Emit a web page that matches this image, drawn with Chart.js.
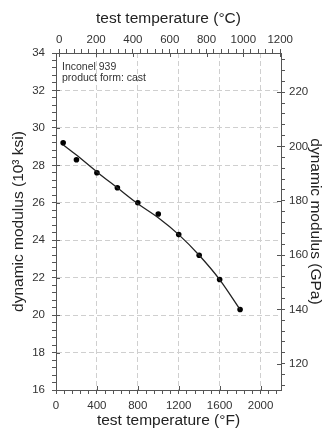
<!DOCTYPE html>
<html><head><meta charset="utf-8">
<script src="https://cdn.jsdelivr.net/npm/chart.js@4/dist/chart.umd.min.js"></script>
<style>html,body{margin:0;padding:0;background:#fff}canvas{display:block}</style>
</head><body>
<canvas id="c" width="329" height="434"></canvas>
<script>
// ---- data ----
const tempF = [70, 200, 400, 600, 800, 1000, 1200, 1400, 1600, 1800];
const modulusKsi = [29.2, 28.3, 27.6, 26.8, 26.0, 25.4, 24.3, 23.2, 21.9, 20.3];
const fitTempF = [70, 200, 400, 600, 800, 1000, 1200, 1400, 1600, 1800];
const fitKsi = [29.1, 28.55, 27.65, 26.8, 25.95, 25.2, 24.3, 23.2, 21.9, 20.3];

const xTicksF = [0, 400, 800, 1200, 1600, 2000];
const xTicksC = [0, 200, 400, 600, 800, 1000, 1200];
const yTicksKsi = [16, 18, 20, 22, 24, 26, 28, 30, 32, 34];
const yTicksGPa = [120, 140, 160, 180, 200, 220];
const minorStepF = 80, minorStepC = 40, minorStepKsi = 0.4, minorStepGPa = 4;
const xRangeF = [0, 2200];
const yRangeKsi = [16, 34];
const noteLines = ['Inconel 939', 'product form: cast'];
const titles = {
  top: 'test temperature (°C)',
  bottom: 'test temperature (°F)',
  left: 'dynamic modulus (10³ ksi)',
  right: 'dynamic modulus (GPa)'
};
const KSI_TO_GPA = 6.895;
const fToC = f => (f - 32) / 1.8;

// ---- helpers ----
const FONT = '"Liberation Sans", Arial, Helvetica, sans-serif';
const AXIS = '#555';
const near = (a, b) => Math.abs(a - b) < 1e-6;
function tickBuilder(majors, step) {
  return scale => {
    const vals = [];
    const start = Math.ceil((scale.min - 1e-9) / step);
    for (let k = start; k * step <= scale.max + 1e-9; k++) vals.push(+(k * step).toFixed(6));
    majors.forEach(m => { if (!vals.some(v => near(v, m))) vals.push(m); });
    vals.sort((a, b) => a - b);
    scale.ticks = vals.map(v => ({ value: v, major: majors.some(m => near(m, v)) }));
  };
}
const labelCb = function (value, index, ticks) { return ticks[index].major ? String(Math.round(value)) : ''; };
function gridColor(withGrid) {
  return ctx => {
    if (!withGrid || !ctx.tick || !ctx.tick.major) return 'rgba(0,0,0,0)';
    const s = ctx.scale;
    if (near(ctx.tick.value, s.min) || near(ctx.tick.value, s.max)) return 'rgba(0,0,0,0)';
    return '#cfcfcf';
  };
}
function axis(position, min, max, majors, step, size, withGrid, tickPad, titlePad) {
  return {
    type: 'linear', position, min, max,
    afterBuildTicks: tickBuilder(majors, step),
    afterFit: s => { if (s.isHorizontal()) s.height = size; else s.width = size; },
    ticks: { autoSkip: false, maxRotation: 0, minRotation: 0, padding: tickPad, color: '#333',
             font: { family: FONT, size: 11.5 }, callback: labelCb },
    grid: { drawOnChartArea: withGrid, color: gridColor(withGrid), lineWidth: 1,
            drawTicks: true, tickLength: 4, tickColor: AXIS, tickWidth: 1 },
    border: { display: true, color: AXIS, width: 1, dash: [5, 3] },
    title: { display: true, text: titles[position], color: '#222',
             font: { family: FONT, size: 15.5 }, padding: titlePad }
  };
}

const extras = {
  id: 'extras',
  afterDraw(chart) {
    const { ctx, chartArea: a } = chart;
    ctx.save();
    // inner half of major ticks
    ctx.strokeStyle = AXIS; ctx.lineWidth = 1;
    ['x', 'y', 'xTop', 'yRight'].forEach(id => {
      const s = chart.scales[id];
      s.ticks.forEach(t => {
        if (!t.major) return;
        const p = Math.round(s.getPixelForValue(t.value)) + 0.5;
        ctx.beginPath();
        if (id === 'x') { ctx.moveTo(p, a.bottom); ctx.lineTo(p, a.bottom - 4); }
        if (id === 'xTop') { ctx.moveTo(p, a.top); ctx.lineTo(p, a.top + 4); }
        if (id === 'y') { ctx.moveTo(a.left, p); ctx.lineTo(a.left + 4, p); }
        if (id === 'yRight') { ctx.moveTo(a.right, p); ctx.lineTo(a.right - 4, p); }
        ctx.stroke();
      });
    });
    // note text
    ctx.fillStyle = '#333';
    ctx.font = '10.5px ' + FONT;
    ctx.textBaseline = 'middle';
    noteLines.forEach((t, i) => ctx.fillText(t, a.left + 6, a.top + 14 + i * 11.5));
    ctx.restore();
  }
};

new Chart(document.getElementById('c'), {
  type: 'scatter',
  data: {
    datasets: [
      { label: 'fit', data: fitTempF.map((x, i) => ({ x, y: fitKsi[i] })), showLine: true,
        pointRadius: 0, borderColor: '#222', borderWidth: 1.3, cubicInterpolationMode: 'monotone',
        xAxisID: 'x', yAxisID: 'y' },
      { label: 'measured', data: tempF.map((x, i) => ({ x, y: modulusKsi[i] })), showLine: false,
        pointRadius: 2.8, pointBackgroundColor: '#000', pointBorderColor: '#000', pointBorderWidth: 0,
        xAxisID: 'x', yAxisID: 'y' }
    ]
  },
  options: {
    responsive: false, animation: false,
    layout: { padding: 0 },
    plugins: { legend: { display: false }, tooltip: { enabled: false } },
    scales: {
      x: axis('bottom', xRangeF[0], xRangeF[1], xTicksF, minorStepF, 44, true, 5, { top: 0, bottom: 4 }),
      xTop: axis('top', fToC(xRangeF[0]), fToC(xRangeF[1]), xTicksC, minorStepC, 53, false, 2, { top: 9, bottom: 0 }),
      y: axis('left', yRangeKsi[0], yRangeKsi[1], yTicksKsi, minorStepKsi, 56, true, 7, { top: 9, bottom: 0 }),
      yRight: axis('right', yRangeKsi[0] * KSI_TO_GPA, yRangeKsi[1] * KSI_TO_GPA, yTicksGPa, minorStepGPa, 48, false, 4, { top: 4, bottom: 0 })
    }
  },
  plugins: [extras]
});
</script>
</body></html>
